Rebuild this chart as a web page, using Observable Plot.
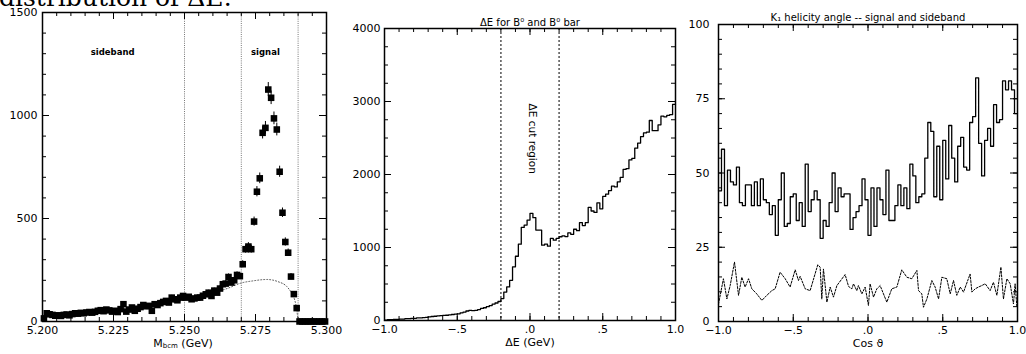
<!DOCTYPE html>
<html><head><meta charset="utf-8">
<script src="https://cdn.jsdelivr.net/npm/d3@7"></script>
<script src="https://cdn.jsdelivr.net/npm/@observablehq/plot@0.6"></script>
<style>
html,body{margin:0;padding:0;background:#fff;}
#wrap{position:relative;width:1026px;height:354px;overflow:hidden;font-family:"DejaVu Sans",sans-serif;}
.panel{position:absolute;top:0;}
.panel svg{overflow:visible;}
#doc{position:absolute;left:-1px;top:-17px;font-family:"DejaVu Serif",serif;font-size:25px;white-space:nowrap;color:#000;}
#mlab{position:absolute;left:183px;top:337px;transform:translateX(-50%);font-size:11px;white-space:nowrap;}
#mlab sub{font-size:7px;vertical-align:-1px;}
</style></head>
<body><div id="wrap">
<div id="doc">distribution of ΔE:</div>
<div id="p1" class="panel" style="left:0px"></div>
<div id="p2" class="panel" style="left:340px"></div>
<div id="p3" class="panel" style="left:685px"></div>
<div id="mlab">M<sub>bcm</sub> (GeV)</div>
</div>
<script>
// ---------- Panel 1: Mbc distribution (bins of 0.001 GeV, centres 5.2005 ...) ----------
const mbcCounts = [15,40,35,32,28,30,27,32,34,30,
  36,40,38,42,40,44,46,43,47,52,
  55,50,58,54,48,52,46,60,84,48,
  58,68,52,62,70,80,74,76,52,84,
  80,89,95,100,92,116,108,103,116,124,
  116,120,108,112,116,116,125,132,140,124,
  150,140,160,181,184,216,189,200,226,220,
  278,351,364,351,485,630,695,916,940,1126,
  1086,986,932,727,528,386,334,218,133,65,
  0,0,0,0,0,0,0,0,0,0];
const mbcErrors = [4,6,6,6,5,5,5,6,6,5,
  6,6,6,6,6,7,7,7,7,7,
  7,7,8,7,7,7,7,8,9,7,
  8,8,7,8,8,9,9,9,7,9,
  9,9,10,10,10,11,10,10,11,11,
  11,11,10,11,11,11,11,11,12,11,
  12,12,13,13,14,15,14,14,15,15,
  17,19,19,19,22,25,26,30,31,34,
  33,31,31,27,23,20,18,15,12,8,
  0,0,0,0,0,0,0,0,0,0];
const bkgX = [5.200,5.210,5.220,5.230,5.240,5.250,5.260,5.265,5.270,5.274,5.279,5.283,5.286,5.288,5.289,5.2895,5.290];
const bkgY = [28,38,50,64,82,104,140,160,187,197,204,193,170,130,95,60,0];
const mbcCuts = [5.250,5.270,5.290];
const mbcNotes = [{text:"sideband", x:5.2247, y:1309},{text:"signal", x:5.2785, y:1309}];
const mbcXTicks = [5.200,5.225,5.250,5.275,5.300];
const mbcYTicks = [0,500,1000,1500];

// ---------- Panel 2: Delta E histogram (bins of 0.02 GeV from -1.0) ----------
const deCounts = [5,10,10,15,15,20,20,25,25,30,
  30,35,35,40,42,50,55,58,62,66,
  70,72,78,82,88,92,105,115,130,140,
  135,140,150,165,175,190,205,225,240,260,
  300,390,460,550,735,880,1046,1275,1307,1376,
  1468,1408,1239,1239,1032,1046,1018,1124,1100,1124,
  1147,1160,1150,1200,1180,1250,1230,1340,1300,1340,
  1550,1500,1480,1610,1530,1700,1730,1780,1840,1830,
  1900,1960,2070,2080,2200,2220,2360,2430,2520,2570,
  2580,2740,2600,2600,2680,2800,2790,2810,2820,2960];
const deCuts = [-0.2,0.2];
const deNotes = [{text:"ΔE cut region", x:0.017, y:2490}];
const deXTicks = [-1,-0.5,0,0.5,1];
const deYTicks = [0,1000,2000,3000,4000];

// ---------- Panel 3: K1 helicity angle (signal histogram, bins of 0.02) ----------
const sigCounts = [44,58,39,51,47,46,52,40,39,46,
  46,39,47,39,48,41,40,36,39,29,
  41,50,32,33,42,43,34,40,32,53,
  37,41,44,41,28,34,32,40,50,37,
  45,42,43,43,31,35,37,39,48,41,
  29,45,32,45,41,36,51,34,34,39,
  46,39,45,38,53,49,40,42,43,55,
  67,64,42,59,41,61,48,66,55,47,
  59,62,52,51,67,69,82,60,49,61,
  65,59,73,67,68,81,78,81,78,70];
const sideX = [-1.0,-0.967,-0.944,-0.922,-0.893,-0.866,-0.844,-0.822,-0.799,-0.777,-0.744,-0.710,-0.677,-0.643,-0.621,-0.588,-0.554,-0.521,-0.487,-0.465,-0.454,-0.420,-0.387,-0.336,-0.320,-0.309,-0.298,-0.275,-0.253,-0.231,-0.208,-0.153,-0.130,-0.108,-0.097,-0.075,-0.064,-0.041,-0.019,0.003,0.014,0.037,0.059,0.081,0.126,0.159,0.193,0.226,0.260,0.293,0.327,0.338,0.360,0.371,0.394,0.427,0.449,0.472,0.494,0.527,0.550,0.572,0.594,0.617,0.639,0.683,0.695,0.717,0.739,0.761,0.784,0.817,0.839,0.862,0.889,0.906,0.929,0.951,0.973,0.984,0.996];
const sideY = [5.9,14.4,7.6,12.1,20,8.8,14.9,11.6,14.4,11,9.3,7.1,8.8,10.4,11,16.6,14.4,11.6,17.4,13.8,15.2,11,10.4,19.1,18.3,7.6,17.7,6.5,11.6,8.2,12.1,15.8,11.8,11,12.7,10.4,12.1,9.3,11.6,5.4,12.7,8.2,11,12.1,6.5,11,11.6,17.4,14.9,14.4,17.2,10.4,9.3,4.8,7.6,13.8,11.6,7.6,14.9,14.4,9.3,13.8,8.8,11.6,9.9,16,9.9,11,11.6,12.1,12.7,10.4,13.2,8.8,18.3,7.6,14.4,12.7,5.9,12.7,4.8];
const helXTicks = [-1,-0.5,0,0.5,1];
const helYTicks = [0,25,50,75,100];

// ---------- helpers ----------
const FONT = "DejaVu Sans";
function signedFmt(d){ if (d === 0) return ".0"; const a = Math.abs(d); const s = a === 1 ? "1.0" : "." + String(a).split(".")[1]; return (d < 0 ? "\u2212" : "") + s; }
function boxAxes(W, H, xMaj, xMin, yMaj, yMin, fx, fy, yPad) {
  const ML = 7, MN = 4, st = {stroke:"#000", strokeWidth:1};
  return [
    Plot.tickX(xMaj, {x:d=>d, insetTop:H-ML, ...st}),
    Plot.tickX(xMaj, {x:d=>d, insetBottom:H-ML, ...st}),
    Plot.tickX(xMin, {x:d=>d, insetTop:H-MN, ...st}),
    Plot.tickX(xMin, {x:d=>d, insetBottom:H-MN, ...st}),
    Plot.tickY(yMaj, {y:d=>d, insetRight:W-ML, ...st}),
    Plot.tickY(yMaj, {y:d=>d, insetLeft:W-ML, ...st}),
    Plot.tickY(yMin, {y:d=>d, insetRight:W-MN, ...st}),
    Plot.tickY(yMin, {y:d=>d, insetLeft:W-MN, ...st}),
    Plot.axisX({ticks:xMaj, anchor:"bottom", tickSize:0, tickPadding:5, tickFormat:fx, label:null, fontSize:11}),
    Plot.axisY({ticks:yMaj, anchor:"left", tickSize:0, tickPadding:yPad, tickFormat:fy, label:null, fontSize:11}),
    Plot.frame({stroke:"#000", strokeWidth:1.5})
  ];
}
const baseStyle = {background:"transparent", overflow:"visible", fontFamily:FONT, fontSize:"11px", color:"#000"};

// ---------- Panel 1 ----------
const mbcData = mbcCounts.map((v,i)=>({x:5.2005+0.001*i, y:v, e:mbcErrors[i]}));
const p1 = Plot.plot({
  width:340, height:354, marginLeft:42, marginRight:14, marginTop:12, marginBottom:33,
  x:{domain:[5.2,5.3]}, y:{domain:[0,1500]}, style:baseStyle,
  marks:[
    Plot.ruleX(mbcCuts, {x:d=>d, stroke:"#777", strokeWidth:1, strokeDasharray:"1,1.2"}),
    Plot.line(bkgX.map((x,i)=>({x, y:bkgY[i]})), {x:"x", y:"y", curve:"monotone-x", stroke:"#555", strokeWidth:1, strokeDasharray:"1,2"}),
    Plot.ruleX(mbcData.filter(d=>d.e>0), {x:"x", y1:d=>d.y-d.e, y2:d=>d.y+d.e, stroke:"#000", strokeWidth:1}),
    Plot.dot(mbcData, {x:"x", y:"y", symbol:"square", r:3.7, fill:"#000", stroke:null}),
    Plot.text(mbcNotes, {x:"x", y:"y", text:"text", fontSize:8.5, fontWeight:"bold", fill:"#000"}),
    ...boxAxes(284, 309, mbcXTicks, d3.range(5.2, 5.3001, 0.005), mbcYTicks, d3.range(0, 1501, 100),
      d=>d.toFixed(3), d=>String(d), 5)
  ]
});
document.getElementById("p1").append(p1);

// ---------- Panel 2 ----------
const deData = deCounts.map((v,i)=>({x:-1+0.02*i, y:v}));
deData.push({x:1, y:deCounts[deCounts.length-1]});
const p2 = Plot.plot({
  width:345, height:354, marginLeft:44, marginRight:10, marginTop:28, marginBottom:34,
  x:{domain:[-1,1]}, y:{domain:[0,4000]}, style:baseStyle,
  marks:[
    Plot.ruleX(deCuts, {x:d=>d, stroke:"#555", strokeWidth:1.5, strokeDasharray:"2,2"}),
    Plot.line(deData, {x:"x", y:"y", curve:"step-after", stroke:"#000", strokeWidth:1.3}),
    Plot.text(deNotes, {x:"x", y:"y", text:"text", rotate:90, fontSize:10.5, fill:"#000"}),
    Plot.text(["ΔE for B⁰ and B⁰ bar"], {frameAnchor:"top", dy:-10, fontSize:10, fill:"#000"}),
    Plot.text(["ΔE (GeV)"], {frameAnchor:"bottom", dy:25, fontSize:11, fill:"#000"}),
    ...boxAxes(291, 292, deXTicks, d3.range(-1, 1.0001, 0.1).map(d=>+d.toFixed(2)), deYTicks, d3.range(0, 4001, 250),
      signedFmt, d=>String(d), 4)
  ]
});
document.getElementById("p2").append(p2);

// ---------- Panel 3 ----------
const sigData = sigCounts.map((v,i)=>({x:-1+0.02*i, y:v}));
sigData.push({x:1, y:sigCounts[sigCounts.length-1]});
const sideData = sideX.map((x,i)=>({x, y:sideY[i]}));
const p3 = Plot.plot({
  width:341, height:354, marginLeft:33, marginRight:9, marginTop:24, marginBottom:33,
  x:{domain:[-1,1]}, y:{domain:[0,100]}, style:baseStyle,
  marks:[
    Plot.line(sigData, {x:"x", y:"y", curve:"step-after", stroke:"#000", strokeWidth:1.3}),
    Plot.line(sideData, {x:"x", y:"y", stroke:"#000", strokeWidth:1, strokeDasharray:"2,1.5"}),
    Plot.text(["K₁ helicity angle -- signal and sideband"], {frameAnchor:"top", dy:-11, fontSize:10, fill:"#000"}),
    Plot.text(["Cos ϑ"], {frameAnchor:"bottom", dy:25, fontSize:11, fill:"#000"}),
    ...boxAxes(299, 297, helXTicks, d3.range(-1, 1.0001, 0.1).map(d=>+d.toFixed(2)), helYTicks, d3.range(0, 101, 5),
      signedFmt, d=>String(d), 9)
  ]
});
document.getElementById("p3").append(p3);
</script>
</body></html>
